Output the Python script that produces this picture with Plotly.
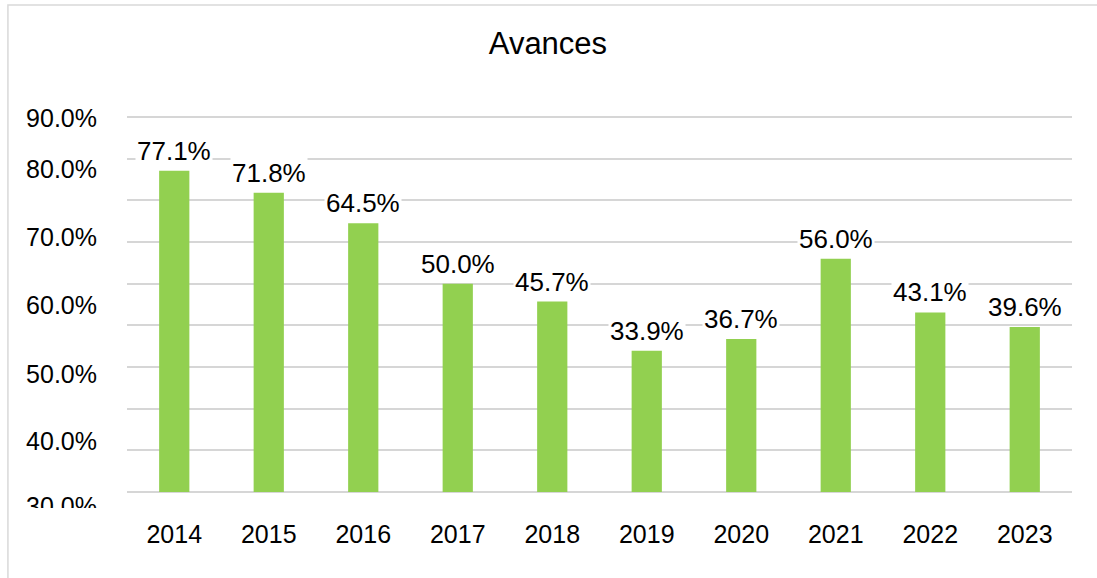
import plotly.graph_objects as go

years = ["2014", "2015", "2016", "2017", "2018", "2019", "2020", "2021", "2022", "2023"]
values = [77.1, 71.8, 64.5, 50.0, 45.7, 33.9, 36.7, 56.0, 43.1, 39.6]
value_labels = ["77.1%", "71.8%", "64.5%", "50.0%", "45.7%", "33.9%", "36.7%", "56.0%", "43.1%", "39.6%"]
y_label_text = ["90.0%", "80.0%", "70.0%", "60.0%", "50.0%", "40.0%", "30.0%"]
y_label_pos = [89.76, 77.52, 61.2, 44.88, 28.32, 12.24, -3.36]

FONT = "Liberation Sans, Arial, sans-serif"
xpos = list(range(len(years)))

fig = go.Figure()
fig.add_trace(go.Bar(
    x=xpos, y=values, marker=dict(color="#92D050", line=dict(width=0)),
    hoverinfo="skip", showlegend=False,
))
fig.add_trace(go.Scatter(
    x=xpos, y=[None] * len(years), yaxis="y2", mode="markers",
    hoverinfo="skip", showlegend=False,
))

for i, v, t in zip(xpos, values, value_labels):
    fig.add_annotation(
        x=i, y=v, text=t, showarrow=False, yanchor="bottom", yshift=3,
        bgcolor="white", borderpad=1,
        font=dict(family=FONT, size=26, color="#000000"),
    )

# chart frame
fig.add_shape(type="rect", xref="paper", yref="paper",
              x0=-0.126, x1=1.2, y0=-0.6, y1=1.28,
              line=dict(color="#d9d9d9", width=1.5), fillcolor="rgba(0,0,0,0)",
              layer="below")
# crop of the lowest y label
fig.add_shape(type="rect", xref="paper", yref="paper",
              x0=-0.12, x1=-0.003, y0=-0.06, y1=0.0,
              line=dict(width=0), fillcolor="white", layer="above")

YR = [-3.84, 90.48]
fig.update_layout(
    width=1097, height=578,
    margin=dict(l=127, r=25, t=115, b=70, autoexpand=False),
    paper_bgcolor="white", plot_bgcolor="white",
    bargap=0.68,
    title=dict(text="Avances", x=0.4995, xanchor="center", y=1 - 43 / 578,
               yanchor="middle", yref="container",
               font=dict(family=FONT, size=31, color="#000000")),
    xaxis=dict(range=[-0.5, len(years) - 0.5], tickmode="array", tickvals=xpos,
               ticktext=years, showgrid=False, showline=False, ticks="",
               zeroline=False,
               tickfont=dict(family=FONT, size=25, color="#000000"),
               ticklabelstandoff=9),
    yaxis=dict(range=YR, tick0=0, dtick=10, showgrid=True,
               gridcolor="#d6d6d6", gridwidth=1.5, showticklabels=False,
               zeroline=False, showline=False, ticks=""),
    yaxis2=dict(overlaying="y", side="left", range=YR,
                tickmode="array", tickvals=y_label_pos, ticktext=y_label_text,
                showgrid=False, zeroline=False, showline=False, ticks="",
                tickfont=dict(family=FONT, size=25, color="#000000"),
                ticklabelstandoff=29),
)

fig.write_html("out.html", config={"displayModeBar": False},
               post_script="document.body.style.margin='0';")
